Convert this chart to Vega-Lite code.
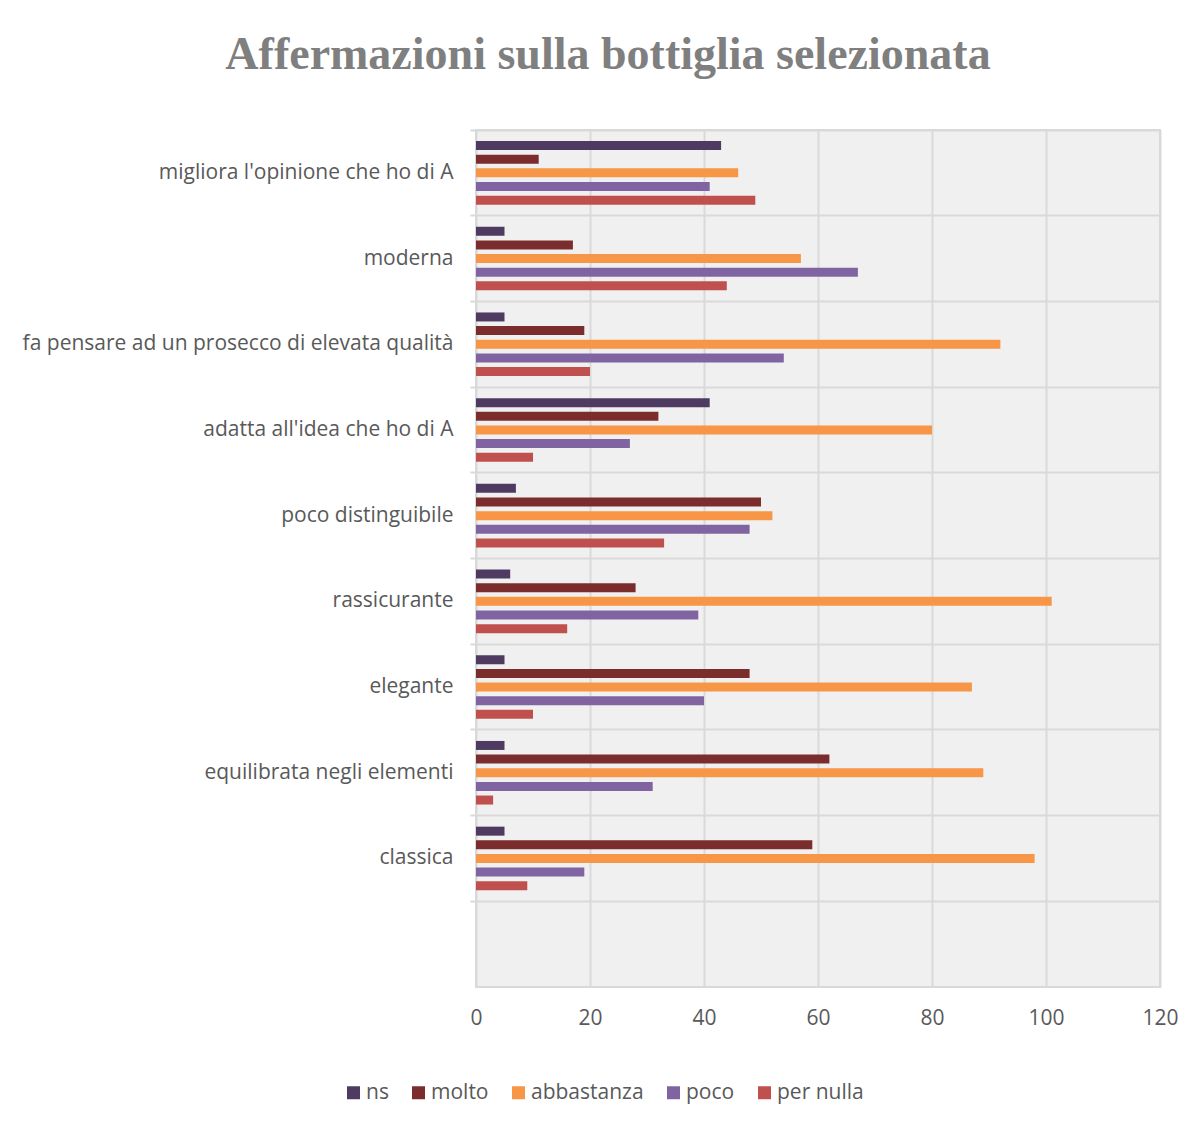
{
  "$schema": "https://vega.github.io/schema/vega-lite/v6.json",
  "autosize": "none",
  "width": 684,
  "height": 857,
  "padding": {"left": 476, "top": 130, "right": 38, "bottom": 148},
  "background": "white",
  "title": {
    "text": "Affermazioni sulla bottiglia selezionata",
    "font": "Liberation Serif",
    "fontSize": 46,
    "fontWeight": "bold",
    "color": "#7f7f7f",
    "anchor": "middle",
    "dx": -210,
    "offset": 50
  },
  "config": {
    "view": {"fill": "#f0f0f0", "stroke": "#d9d9d9", "strokeWidth": 2},
    "font": "Open Sans"
  },
  "data": {
    "values": [
      {"categoria": "migliora l'opinione che ho di A", "serie": "ns", "valore": 43},
      {"categoria": "migliora l'opinione che ho di A", "serie": "molto", "valore": 11},
      {"categoria": "migliora l'opinione che ho di A", "serie": "abbastanza", "valore": 46},
      {"categoria": "migliora l'opinione che ho di A", "serie": "poco", "valore": 41},
      {"categoria": "migliora l'opinione che ho di A", "serie": "per nulla", "valore": 49},
      {"categoria": "moderna", "serie": "ns", "valore": 5},
      {"categoria": "moderna", "serie": "molto", "valore": 17},
      {"categoria": "moderna", "serie": "abbastanza", "valore": 57},
      {"categoria": "moderna", "serie": "poco", "valore": 67},
      {"categoria": "moderna", "serie": "per nulla", "valore": 44},
      {"categoria": "fa pensare ad un prosecco di elevata qualità", "serie": "ns", "valore": 5},
      {"categoria": "fa pensare ad un prosecco di elevata qualità", "serie": "molto", "valore": 19},
      {"categoria": "fa pensare ad un prosecco di elevata qualità", "serie": "abbastanza", "valore": 92},
      {"categoria": "fa pensare ad un prosecco di elevata qualità", "serie": "poco", "valore": 54},
      {"categoria": "fa pensare ad un prosecco di elevata qualità", "serie": "per nulla", "valore": 20},
      {"categoria": "adatta all'idea che ho di A", "serie": "ns", "valore": 41},
      {"categoria": "adatta all'idea che ho di A", "serie": "molto", "valore": 32},
      {"categoria": "adatta all'idea che ho di A", "serie": "abbastanza", "valore": 80},
      {"categoria": "adatta all'idea che ho di A", "serie": "poco", "valore": 27},
      {"categoria": "adatta all'idea che ho di A", "serie": "per nulla", "valore": 10},
      {"categoria": "poco distinguibile", "serie": "ns", "valore": 7},
      {"categoria": "poco distinguibile", "serie": "molto", "valore": 50},
      {"categoria": "poco distinguibile", "serie": "abbastanza", "valore": 52},
      {"categoria": "poco distinguibile", "serie": "poco", "valore": 48},
      {"categoria": "poco distinguibile", "serie": "per nulla", "valore": 33},
      {"categoria": "rassicurante", "serie": "ns", "valore": 6},
      {"categoria": "rassicurante", "serie": "molto", "valore": 28},
      {"categoria": "rassicurante", "serie": "abbastanza", "valore": 101},
      {"categoria": "rassicurante", "serie": "poco", "valore": 39},
      {"categoria": "rassicurante", "serie": "per nulla", "valore": 16},
      {"categoria": "elegante", "serie": "ns", "valore": 5},
      {"categoria": "elegante", "serie": "molto", "valore": 48},
      {"categoria": "elegante", "serie": "abbastanza", "valore": 87},
      {"categoria": "elegante", "serie": "poco", "valore": 40},
      {"categoria": "elegante", "serie": "per nulla", "valore": 10},
      {"categoria": "equilibrata negli elementi ", "serie": "ns", "valore": 5},
      {"categoria": "equilibrata negli elementi ", "serie": "molto", "valore": 62},
      {"categoria": "equilibrata negli elementi ", "serie": "abbastanza", "valore": 89},
      {"categoria": "equilibrata negli elementi ", "serie": "poco", "valore": 31},
      {"categoria": "equilibrata negli elementi ", "serie": "per nulla", "valore": 3},
      {"categoria": "classica", "serie": "ns", "valore": 5},
      {"categoria": "classica", "serie": "molto", "valore": 59},
      {"categoria": "classica", "serie": "abbastanza", "valore": 98},
      {"categoria": "classica", "serie": "poco", "valore": 19},
      {"categoria": "classica", "serie": "per nulla", "valore": 9}
    ]
  },
  "mark": {"type": "bar"},
  "encoding": {
    "y": {
      "field": "categoria",
      "type": "nominal",
      "scale": {
        "domain": [
          "migliora l'opinione che ho di A",
          "moderna",
          "fa pensare ad un prosecco di elevata qualità",
          "adatta all'idea che ho di A",
          "poco distinguibile",
          "rassicurante",
          "elegante",
          "equilibrata negli elementi ",
          "classica",
          ""
        ],
        "paddingInner": 0,
        "paddingOuter": 0
      },
      "axis": {
        "title": null,
        "bandPosition": 0,
        "domain": false,
        "grid": true,
        "gridColor": "#d9d9d9",
        "gridWidth": 2,
        "ticks": true,
        "tickColor": "#d9d9d9",
        "tickWidth": 2,
        "tickSize": 6,
        "labelFont": "Open Sans",
        "labelFontSize": 21,
        "labelColor": "#595959",
        "labelPadding": 17,
        "labelLimit": 500
      }
    },
    "yOffset": {
      "field": "serie",
      "type": "nominal",
      "scale": {
        "domain": ["ns", "molto", "abbastanza", "poco", "per nulla"],
        "paddingInner": 0.34,
        "paddingOuter": 0.81
      }
    },
    "x": {
      "field": "valore",
      "type": "quantitative",
      "scale": {"domain": [0, 120], "nice": false},
      "axis": {
        "title": null,
        "values": [0, 20, 40, 60, 80, 100, 120],
        "domain": false,
        "ticks": false,
        "grid": true,
        "gridColor": "#d9d9d9",
        "gridWidth": 2,
        "labelFlush": false,
        "labelFont": "Open Sans",
        "labelFontSize": 21,
        "labelColor": "#595959",
        "labelPadding": 20
      }
    },
    "color": {
      "field": "serie",
      "type": "nominal",
      "scale": {
        "domain": ["ns", "molto", "abbastanza", "poco", "per nulla"],
        "range": ["#4f3b62", "#7b2c2c", "#f79646", "#8064a2", "#c0504d"]
      },
      "legend": {
        "title": null,
        "orient": "none",
        "direction": "horizontal",
        "legendX": -133,
        "legendY": 952,
        "symbolType": "square",
        "symbolSize": 169,
        "symbolStrokeWidth": 0,
        "symbolOpacity": 1,
        "labelFont": "Open Sans",
        "labelFontSize": 21,
        "labelColor": "#595959",
        "labelOffset": 2,
        "columnPadding": 19
      }
    }
  }
}
